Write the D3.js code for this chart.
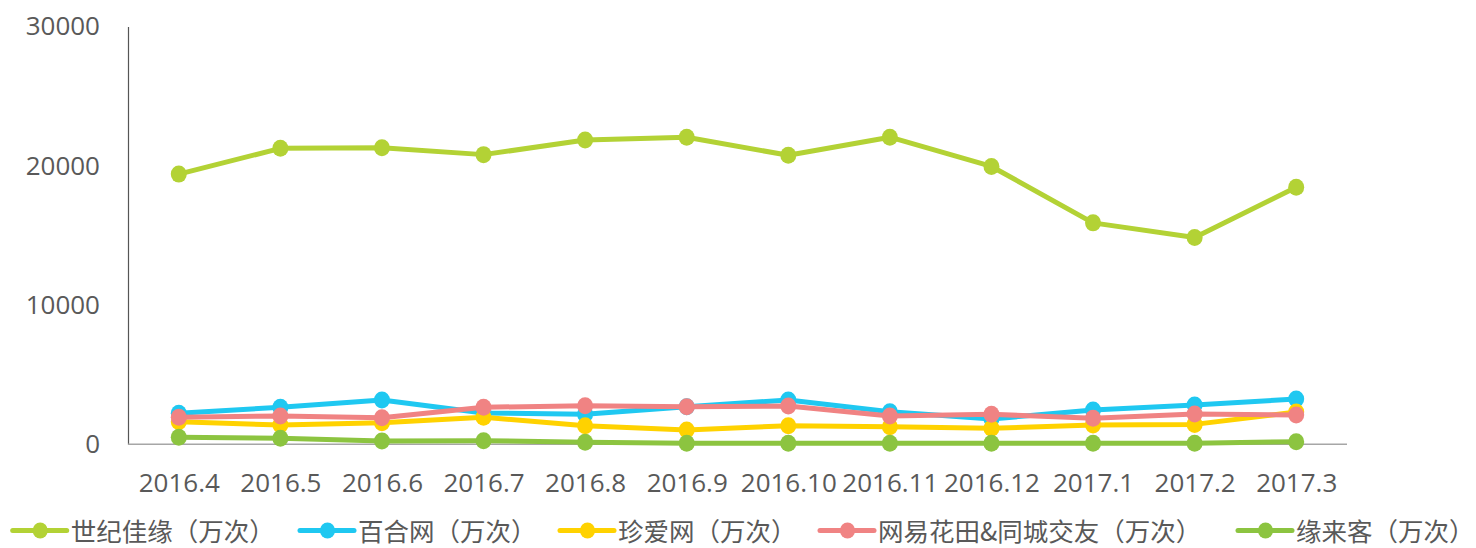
<!DOCTYPE html>
<html><head><meta charset="utf-8">
<script src="https://cdn.jsdelivr.net/npm/d3@7/dist/d3.min.js"></script>
<style>body{margin:0;background:#fff;}svg{display:block;}</style>
</head><body>
<svg id="c" width="1476" height="548"></svg>
<script>
const categories = ["2016.4","2016.5","2016.6","2016.7","2016.8","2016.9","2016.10","2016.11","2016.12","2017.1","2017.2","2017.3"];
const jiayuan = [19400,21250,21300,20800,21850,22050,20750,22050,19950,15900,14850,18450];
const baihe = [2230,2660,3180,2250,2150,2700,3180,2340,1820,2460,2820,3250];
const zhenai = [1620,1380,1550,1940,1340,1030,1340,1260,1150,1380,1430,2320];
const wangyi = [1940,2030,1910,2660,2770,2700,2750,2030,2150,1870,2170,2100];
const yuanlaike = [500,430,240,260,145,70,70,70,70,70,70,190];
const yTicks = [0,10000,20000,30000];
const seriesNames = ["世纪佳缘（万次）","百合网（万次）","珍爱网（万次）","网易花田&同城交友（万次）","缘来客（万次）"];
const seriesColors = ["#B3D235","#1FC8F1","#FFD200","#F08383","#8CC440"];
const seriesData = [jiayuan, baihe, zhenai, wangyi, yuanlaike];
const legendX = [12.7, 300, 560, 820, 1238];

(function(){
const svg = d3.select("#c");
const mLeft = 128, mRight = 1347, mTop = 26.5, mBottom = 444.3;
const x = d3.scalePoint().domain(categories).range([mLeft, mRight]).padding(0.5);
const y = d3.scaleLinear().domain([0,30000]).range([mBottom, mTop]);
const numFont = "'Open Sans', sans-serif";
const txt = "#595959";

const ya = svg.append("g").attr("transform",`translate(${mLeft},0)`)
  .call(d3.axisLeft(y).tickValues(yTicks).tickSize(0).tickPadding(28).tickFormat(d3.format("d")));
ya.select(".domain").attr("stroke","#555").attr("stroke-width",1.2);
ya.selectAll("text").attr("font-family",numFont).attr("font-size",26).attr("fill",txt);

const xa = svg.append("g").attr("transform",`translate(0,${mBottom})`)
  .call(d3.axisBottom(x).tickSize(0).tickPadding(29));
xa.select(".domain").attr("stroke","#A6A6A6").attr("stroke-width",1.5).attr("d",`M${mLeft},0H${mRight}`);
xa.selectAll("text").attr("font-family",numFont).attr("font-size",26).attr("fill",txt);

const line = d3.line().x((d,i)=>x(categories[i])).y(d=>y(d));
seriesData.forEach((arr,k)=>{
  const g = svg.append("g");
  g.append("path").datum(arr).attr("d",line).attr("fill","none")
    .attr("stroke",seriesColors[k]).attr("stroke-width",5).attr("stroke-linejoin","round");
  g.selectAll("ellipse").data(arr).join("ellipse")
    .attr("cx",(d,i)=>x(categories[i])).attr("cy",d=>y(d))
    .attr("rx",8).attr("ry",8.5).attr("fill",seriesColors[k]);
});

const lg = svg.append("g").attr("transform","translate(0,530.5)");
seriesNames.forEach((n,k)=>{
  const it = lg.append("g").attr("transform",`translate(${legendX[k]},0)`);
  it.append("line").attr("x1",0).attr("x2",54).attr("y1",0).attr("y2",0)
    .attr("stroke",seriesColors[k]).attr("stroke-width",5).attr("stroke-linecap","round");
  it.append("ellipse").attr("cx",27.5).attr("cy",0).attr("rx",7.5).attr("ry",8).attr("fill",seriesColors[k]);
  it.append("text").attr("x",58).attr("y",10)
    .attr("font-family","'Noto Sans CJK SC', sans-serif").attr("font-size",25.5).attr("fill",txt).text(n);
});
})();
</script>
</body></html>
